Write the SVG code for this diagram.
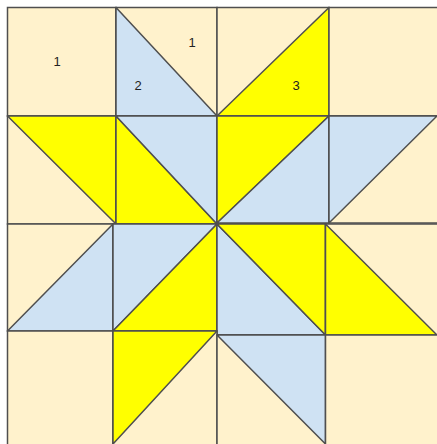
<svg xmlns="http://www.w3.org/2000/svg" width="437" height="444" viewBox="0 0 437 444">
<style>
.c{fill:#fff2cc;stroke:#4f4f4f;stroke-width:1.5}
.b{fill:#cfe2f3;stroke:#4f4f4f;stroke-width:1.5;stroke-linejoin:round}
.y{fill:#ffff00;stroke:#4f4f4f;stroke-width:1.5;stroke-linejoin:round}
.t{font-family:"Liberation Sans",Arial,sans-serif;font-size:13px;fill:#222;text-anchor:middle}
</style>
<rect width="437" height="444" fill="#ffffff"/>
<g id="c00"><rect class="c" x="7.5" y="7.5" width="108.5" height="108.5"/><text class="t" x="57" y="66">1</text></g>
<g id="c10"><rect class="c" x="116" y="7.5" width="101" height="108.5"/><polygon class="b" points="116,7.5 116,116 217,116"/><text class="t" x="192" y="47">1</text><text class="t" x="138" y="90">2</text></g>
<g id="c20"><rect class="c" x="217" y="7.5" width="112" height="108.5"/><polygon class="y" points="329,7.5 329,116 217,116"/><text class="t" x="296" y="90">3</text></g>
<g id="c30"><rect class="c" x="329" y="7.5" width="110" height="108.5"/></g>
<g id="c01"><rect class="c" x="7.5" y="116" width="108.5" height="108"/><polygon class="y" points="7.5,116 116,116 116,224"/></g>
<g id="c11"><rect class="c" x="116" y="116" width="101" height="108"/><polygon class="y" points="116,116 116,224 217,224"/><polygon class="b" points="116,116 217,116 217,224"/></g>
<g id="c21"><rect class="c" x="217" y="116" width="112" height="107"/><polygon class="y" points="217,116 329,116 217,223"/><polygon class="b" points="329,116 329,223 217,223"/></g>
<g id="c31"><rect class="c" x="329" y="116" width="110" height="107"/><polygon class="b" points="329,116 437,116 329,223"/></g>
<g id="c02"><rect class="c" x="7.5" y="224" width="105.5" height="107"/><polygon class="b" points="113,224 113,331 7.5,331"/></g>
<g id="c12"><rect class="c" x="113" y="224" width="104" height="107"/><polygon class="b" points="113,224 217,224 113,331"/><polygon class="y" points="217,224 217,331 113,331"/></g>
<g id="c22"><rect class="c" x="217" y="224" width="108.5" height="111"/><polygon class="b" points="217,224 217,335 325.5,335"/><polygon class="y" points="217,224 325.5,224 325.5,335"/></g>
<g id="c32"><rect class="c" x="325.5" y="224" width="113.5" height="111"/><polygon class="y" points="325.5,224 325.5,335 437,335"/></g>
<g id="c03"><rect class="c" x="7.5" y="331" width="105.5" height="116"/></g>
<g id="c13"><rect class="c" x="113" y="331" width="104" height="116"/><polygon class="y" points="113,331 217,331 113,444"/></g>
<g id="c23"><rect class="c" x="217" y="335" width="108.5" height="112"/><polygon class="b" points="217,335 325.5,335 325.5,444"/></g>
<g id="c33"><rect class="c" x="325.5" y="335" width="113.5" height="112"/></g>
<g id="connectors"></g>
</svg>
